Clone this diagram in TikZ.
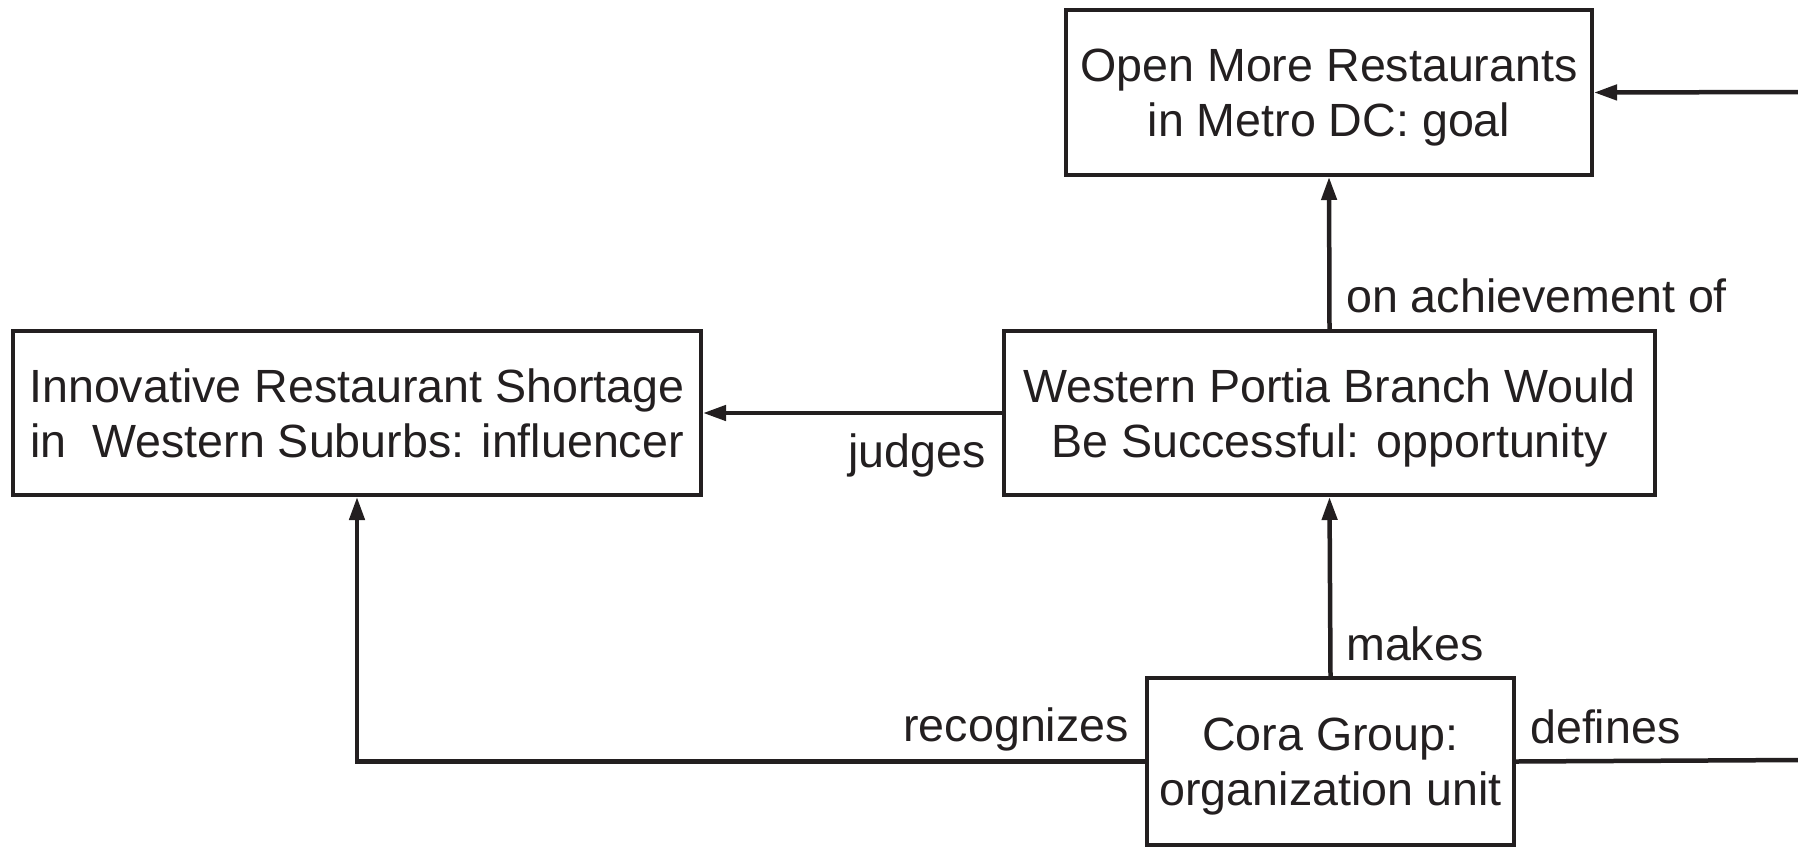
\documentclass[tikz,border=0pt]{standalone}
\usepackage{fontspec}
\setmainfont{Liberation Sans}
\usetikzlibrary{arrows.meta,calc}
\definecolor{ink}{HTML}{231F20}
\begin{document}
\begin{tikzpicture}[x=1pt,y=-1pt,
  every node/.style={font=\fontsize{46.6}{55}\selectfont, text=ink},
  box/.style={draw=ink, line width=4pt, align=center, inner sep=0pt, text height=89pt, text depth=1pt},
  conn/.style={draw=ink, line width=4.5pt},
  arr/.style={conn, -{Triangle[length=23pt,width=15pt]}},
  lbl/.style={inner sep=0pt}]
\useasboundingbox (0,0) rectangle (1798,847);
\node[box, minimum width=526pt, minimum height=165pt] (goal) at (1329,92.5) {Open More Restaurants\\in Metro DC: goal};
\node[box, minimum width=651pt, minimum height=164pt] (opp) at (1329.5,413) {Western Portia Branch Would\\Be Successful: opportunity};
\node[box, minimum width=688pt, minimum height=164pt] (infl) at (357,413) {Innovative Restaurant Shortage\\in\ \ Western Suburbs: influencer};
\node[box, minimum width=367pt, minimum height=167pt] (org) at (1330.5,761.5) {Cora Group:\\organization unit};
\coordinate (rtop) at (1800,92);
\coordinate (rbot) at (1800,760);
\draw[arr] (rtop) -- (goal.east);
\draw[arr] (opp.north) -- (goal.south);
\draw[arr] (org.north) -- (opp.south);
\draw[arr] (opp.west) -- (infl.east);
\draw[arr] (org.west) -| (infl.south);
\draw[conn] (org.east) -- (rbot);
\node[lbl, anchor=west] (l1) at (1346,296) {on achievement of};
\node[lbl, anchor=west] (l2) at (1346,644) {makes};
\node[lbl, anchor=east] (l3) at (986,455) {judges};
\node[lbl, anchor=east] (l4) at (1129,729) {recognizes};
\node[lbl, anchor=west] (l5) at (1530,727) {defines};
\end{tikzpicture}
\end{document}
